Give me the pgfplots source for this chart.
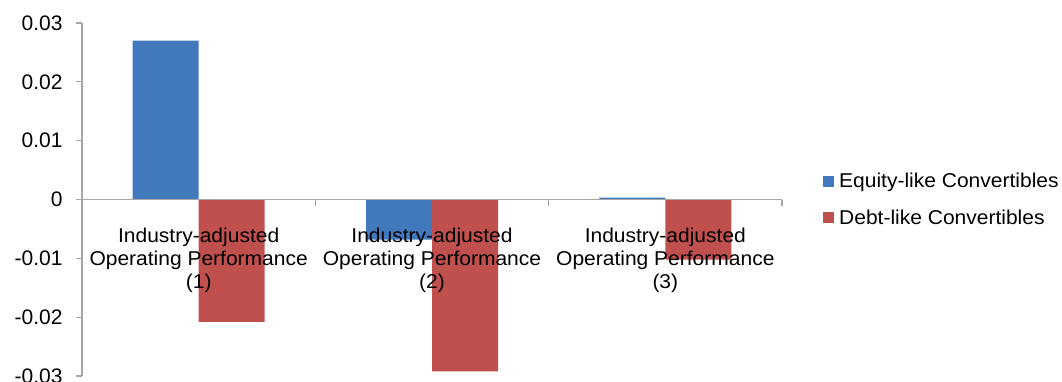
\documentclass[border=0pt]{standalone}
\usepackage{pgfplots}
\pgfplotsset{compat=1.18}
\usepackage{fontspec}
\setmainfont{Liberation Sans}
\definecolor{eqblue}{HTML}{4179BC}
\definecolor{dbred}{HTML}{C0504D}
\definecolor{axgray}{HTML}{A6A6A6}
\newcommand{\wide}[1]{\scalebox{1.05}[1]{#1}}

\begin{document}
\begin{tikzpicture}
\begin{axis}[
  scale only axis, width=700pt, height=353pt,
  xmin=0.5, xmax=3.5, ymin=-0.03, ymax=0.03,
  ybar=0pt, bar width=66pt,
  axis x line*=middle, axis y line*=left,
  hide obscured x ticks=false, hide obscured y ticks=false,
  axis line style={axgray, line width=1.1pt},
  every tick/.style={axgray, line width=1.1pt},
  tick align=outside, major tick length=6pt,
  xtick={0.5,1.5,2.5,3.5}, x tick label as interval,
  xticklabels={{Industry-adjusted\\Operating Performance\\(1)},
               {Industry-adjusted\\Operating Performance\\(2)},
               {Industry-adjusted\\Operating Performance\\(3)}},
  ytick={-0.03,-0.02,-0.01,0,0.01,0.02,0.03},
  scaled y ticks=false,
  yticklabel style={/pgf/number format/fixed, /pgf/number format/precision=2,
    /pgf/number format/assume math mode=true},
  tick label style={text=black},
  xticklabel style={font=\fontsize{20}{23}\selectfont, xscale=1.05, align=center,
    anchor=north, yshift=-19pt},
  yticklabel style={font=\fontsize{21}{23}\selectfont, anchor=east, xshift=-10pt},
  axis on top,
  legend style={at={(1.0586,0.5)}, anchor=west, draw=none, fill=none,
    font=\fontsize{20}{22}\selectfont, inner sep=0pt,
    nodes={inner sep=0pt, anchor=west}, column sep=5pt, row sep=21pt},
  legend cell align=left,
  legend image code/.code={\fill[#1, draw=none] (0pt,-5.5pt) rectangle (11pt,5.5pt);},
]
\addplot[fill=eqblue, draw=none] coordinates {(1,0.0270) (2,-0.0068) (3,0.0003)};
\addplot[fill=dbred, draw=none] coordinates {(1,-0.0208) (2,-0.0292) (3,-0.0102)};
\legend{\wide{Equity-like Convertibles}, \wide{Debt-like Convertibles}}
\end{axis}
\pgfresetboundingbox
\path[use as bounding box] ([shift={(-82pt,-5pt)}]current axis.south west)
  rectangle ([shift={(280pt,23pt)}]current axis.north east);
\end{tikzpicture}
\end{document}
